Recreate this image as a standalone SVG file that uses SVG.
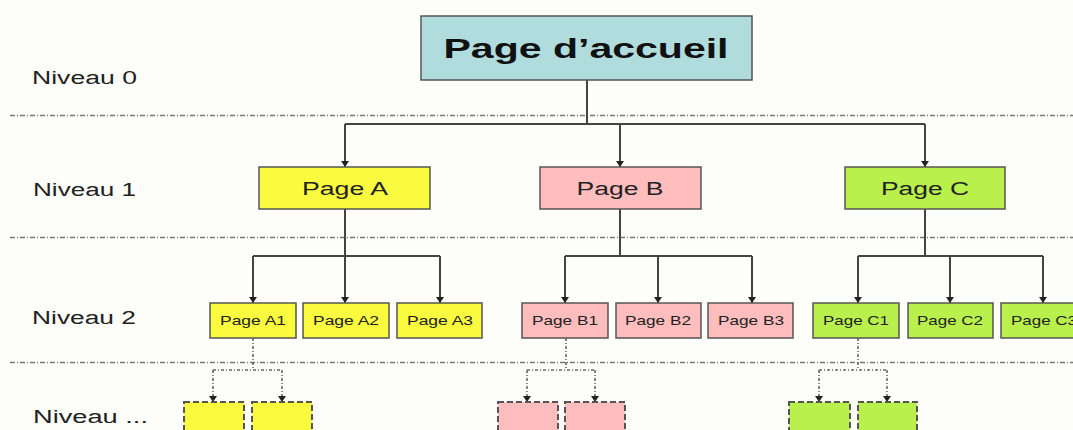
<svg xmlns="http://www.w3.org/2000/svg" width="1073" height="430" viewBox="0 0 1073 430">
<defs>
<marker id="ah" markerWidth="6" markerHeight="8" refX="6" refY="4" orient="auto" markerUnits="userSpaceOnUse" viewBox="0 0 6 8">
<path d="M0,0 L6,4 L0,8 Z" fill="#222"/>
</marker>
<style>
.bg{fill:#fdfdf9}
.sep{stroke:#777;stroke-width:1.3;stroke-dasharray:5 2 1 2;fill:none}
.lvl{font-family:"Liberation Sans",Arial,sans-serif;font-size:18px;fill:#222}
.con{stroke:#444;stroke-width:2;fill:none}
.dcon{stroke:#666;stroke-width:1.6;stroke-dasharray:3 2 1 2;fill:none}
.box{stroke:#555;stroke-width:1.5}
.dbox{stroke:#555;stroke-width:2;stroke-dasharray:6 3}
.y{fill:#fafa3e}
.p{fill:#ffbdbd}
.g{fill:#b9f04c}
.t{fill:#b0dcdd}
.l1{font-family:"Liberation Sans",Arial,sans-serif;font-size:18px;fill:#222;text-anchor:middle}
.l2{font-family:"Liberation Sans",Arial,sans-serif;font-size:13px;fill:#222;text-anchor:middle}
.l0{font-family:"Liberation Sans",Arial,sans-serif;font-size:27px;font-weight:bold;fill:#111;text-anchor:middle}
</style>
</defs>
<rect class="bg" x="0" y="0" width="1073" height="430"/>
<g id="separators">
<line class="sep" x1="10" y1="115.5" x2="1073" y2="115.5"/>
<line class="sep" x1="10" y1="237.5" x2="1073" y2="237.5"/>
<line class="sep" x1="10" y1="362.5" x2="1073" y2="362.5"/>
</g>
<g id="levels">
<text class="lvl" x="32" y="84" textLength="105" lengthAdjust="spacingAndGlyphs">Niveau 0</text>
<text class="lvl" x="33" y="196" textLength="103" lengthAdjust="spacingAndGlyphs">Niveau 1</text>
<text class="lvl" x="32" y="324" textLength="104" lengthAdjust="spacingAndGlyphs">Niveau 2</text>
<text class="lvl" x="33" y="423" textLength="115" lengthAdjust="spacingAndGlyphs">Niveau ...</text>
</g>
<g id="connectors">
<path class="con" d="M587,80 V124 M345,124 H925"/>
<path class="con" d="M345,124 V167" marker-end="url(#ah)"/>
<path class="con" d="M620,124 V167" marker-end="url(#ah)"/>
<path class="con" d="M925,124 V167" marker-end="url(#ah)"/>
<path class="con" d="M345,209 V256 M253,256 H440"/>
<path class="con" d="M253,256 V303" marker-end="url(#ah)"/>
<path class="con" d="M345,256 V303" marker-end="url(#ah)"/>
<path class="con" d="M440,256 V303" marker-end="url(#ah)"/>
<path class="con" d="M620,209 V256 M565,256 H752"/>
<path class="con" d="M565,256 V303" marker-end="url(#ah)"/>
<path class="con" d="M658,256 V303" marker-end="url(#ah)"/>
<path class="con" d="M752,256 V303" marker-end="url(#ah)"/>
<path class="con" d="M925,209 V256 M858,256 H1043"/>
<path class="con" d="M858,256 V303" marker-end="url(#ah)"/>
<path class="con" d="M950,256 V303" marker-end="url(#ah)"/>
<path class="con" d="M1043,256 V303" marker-end="url(#ah)"/>
<path class="dcon" d="M253,338 V370 M213,370 H282"/>
<path class="dcon" d="M213,370 V402" marker-end="url(#ah)"/>
<path class="dcon" d="M282,370 V402" marker-end="url(#ah)"/>
<path class="dcon" d="M566,338 V370 M527,370 H595"/>
<path class="dcon" d="M527,370 V402" marker-end="url(#ah)"/>
<path class="dcon" d="M595,370 V402" marker-end="url(#ah)"/>
<path class="dcon" d="M858,338 V370 M819,370 H887"/>
<path class="dcon" d="M819,370 V402" marker-end="url(#ah)"/>
<path class="dcon" d="M887,370 V402" marker-end="url(#ah)"/>
</g>
<g id="home"><rect class="box t" x="421" y="16" width="331" height="64"/><text class="l0" x="586" y="58" textLength="285" lengthAdjust="spacingAndGlyphs">Page d’accueil</text></g>
<g id="pageA"><rect class="box y" x="259" y="167" width="171" height="42"/><text class="l1" x="345" y="195" textLength="86" lengthAdjust="spacingAndGlyphs">Page A</text></g>
<g id="pageB"><rect class="box p" x="540" y="167" width="161" height="42"/><text class="l1" x="620" y="195" textLength="87" lengthAdjust="spacingAndGlyphs">Page B</text></g>
<g id="pageC"><rect class="box g" x="845" y="167" width="160" height="42"/><text class="l1" x="925" y="195" textLength="88" lengthAdjust="spacingAndGlyphs">Page C</text></g>
<g id="pageA1"><rect class="box y" x="210" y="303" width="86" height="35"/><text class="l2" x="253" y="325" textLength="66" lengthAdjust="spacingAndGlyphs">Page A1</text></g>
<g id="pageA2"><rect class="box y" x="303" y="303" width="86" height="35"/><text class="l2" x="346" y="325" textLength="66" lengthAdjust="spacingAndGlyphs">Page A2</text></g>
<g id="pageA3"><rect class="box y" x="397" y="303" width="85" height="35"/><text class="l2" x="440" y="325" textLength="66" lengthAdjust="spacingAndGlyphs">Page A3</text></g>
<g id="pageB1"><rect class="box p" x="522" y="303" width="86" height="35"/><text class="l2" x="565" y="325" textLength="66" lengthAdjust="spacingAndGlyphs">Page B1</text></g>
<g id="pageB2"><rect class="box p" x="616" y="303" width="85" height="35"/><text class="l2" x="658" y="325" textLength="66" lengthAdjust="spacingAndGlyphs">Page B2</text></g>
<g id="pageB3"><rect class="box p" x="708" y="303" width="85" height="35"/><text class="l2" x="751" y="325" textLength="66" lengthAdjust="spacingAndGlyphs">Page B3</text></g>
<g id="pageC1"><rect class="box g" x="813" y="303" width="86" height="35"/><text class="l2" x="856" y="325" textLength="66" lengthAdjust="spacingAndGlyphs">Page C1</text></g>
<g id="pageC2"><rect class="box g" x="908" y="303" width="85" height="35"/><text class="l2" x="950" y="325" textLength="66" lengthAdjust="spacingAndGlyphs">Page C2</text></g>
<g id="pageC3"><rect class="box g" x="1001" y="303" width="85" height="35"/><text class="l2" x="1044" y="325" textLength="66" lengthAdjust="spacingAndGlyphs">Page C3</text></g>
<g id="subA1"><rect class="dbox y" x="184" y="402" width="60" height="40"/></g>
<g id="subA2"><rect class="dbox y" x="252" y="402" width="60" height="40"/></g>
<g id="subB1"><rect class="dbox p" x="498" y="402" width="60" height="40"/></g>
<g id="subB2"><rect class="dbox p" x="565" y="402" width="60" height="40"/></g>
<g id="subC1"><rect class="dbox g" x="789" y="402" width="61" height="40"/></g>
<g id="subC2"><rect class="dbox g" x="858" y="402" width="59" height="40"/></g>
</svg>
